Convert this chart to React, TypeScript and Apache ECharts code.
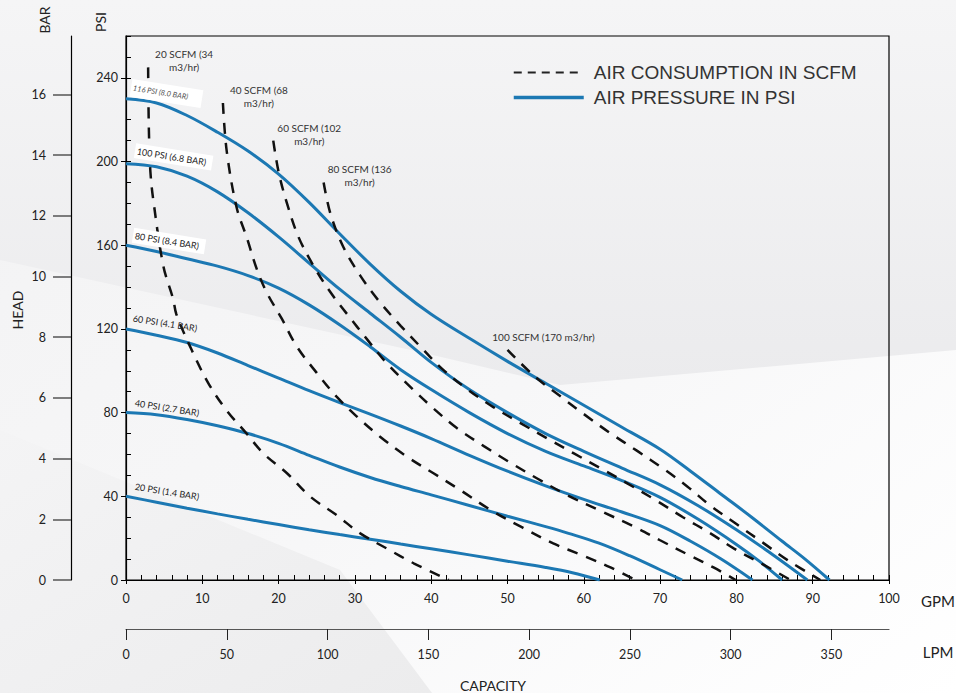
import React, { useEffect, useRef } from "react";
import * as echarts from "echarts";

// ---------- data ----------
const PSI_PER_BAR = 14.5038;
const LPM_PER_GPM = 3.78541;
const GPM_MAX = 100;
const PSI_MAX = 260;
const BAR_TICKS = [0, 2, 4, 6, 8, 10, 12, 14, 16];
const LPM_TICKS = [0, 50, 100, 150, 200, 250, 300, 350];

const LEGEND_AIR = "AIR CONSUMPTION IN SCFM";
const LEGEND_PSI = "AIR PRESSURE IN PSI";

// Air pressure curves  [GPM, PSI]
const psi116 = [[0, 230], [4, 228], [8, 222], [12, 214], [16, 205], [20, 194], [24, 180.5], [28, 165.5], [32, 151], [36, 138], [40, 127], [45, 115.5], [50, 104.5], [55, 94], [60, 83.5], [65, 73], [70, 62.5], [74, 52], [78, 41], [82, 30], [86, 18.5], [89, 10], [92.2, 0]];
const psi100 = [[0, 199], [4, 197.5], [8, 193], [12, 185.5], [16, 175.5], [20, 164], [24, 151.5], [28, 139], [32, 127.5], [36, 116], [40, 104], [45, 91], [50, 80], [55, 70], [60, 61.5], [65, 53.5], [70, 45.5], [75, 35.5], [80, 24], [85, 11.5], [89.3, 0]];
const psi80 = [[0, 160], [4, 157], [8, 153.5], [12, 150], [16, 145.5], [20, 139.5], [24, 131.5], [28, 122], [32, 111.5], [36, 100.5], [40, 91], [45, 80], [50, 70], [55, 61.5], [60, 54.5], [65, 47.5], [70, 39.5], [75, 29], [80, 17], [83, 9], [86, 0]];
const psi60 = [[0, 120], [4, 117], [8, 113.5], [12, 108.5], [16, 102.5], [20, 96.5], [24, 90.5], [28, 84.8], [32, 79.3], [36, 73.6], [40, 67.6], [45, 59.6], [50, 52], [55, 45], [60, 38.5], [65, 32.5], [70, 26], [74, 18.5], [78, 10], [82.1, 0]];
const psi40 = [[0, 80], [4, 79], [8, 76.7], [12, 73.7], [16, 70], [20, 65.3], [24, 59.6], [28, 54], [32, 49], [36, 44.7], [40, 40.7], [45, 35.6], [50, 30.5], [55, 25.5], [58, 22.3], [62, 17.6], [66, 11.6], [70, 4.9], [72.9, 0]];
const psi20 = [[0, 40], [4, 37.2], [8, 34.3], [12, 31.6], [16, 29], [20, 26.5], [24, 24], [28, 21.7], [32, 19.5], [36, 17.2], [40, 14.9], [45, 12], [50, 9], [55, 6], [58.5, 3.5], [62.1, 0]];

// Air consumption curves [GPM, PSI]
const scfm20 = [[2.9, 245], [3.0, 215], [3.2, 195], [3.6, 181], [4.9, 150], [6.2, 134], [6.6, 127], [8.6, 110], [10.8, 94], [13.2, 81], [15.8, 70], [18, 60.5], [21.1, 51], [24.1, 40], [27.6, 31], [30.7, 22.3], [34.2, 15], [37.7, 8], [42.3, 0]];
const scfm40 = [[12.7, 228], [13.2, 205], [14.5, 178], [15.8, 164], [17.2, 148], [18.5, 137], [20.4, 125], [22.4, 111.5], [25, 99], [27.6, 87.6], [30.3, 78], [33.3, 68.5], [36.8, 59], [40.3, 51], [43.8, 43], [48, 33], [52, 25], [56, 17.5], [60, 11.5], [63.5, 6], [66.8, 0]];
const scfm60 = [[19.3, 210], [20, 195], [21.1, 180], [22.6, 164], [24.6, 150], [26.8, 137.5], [29, 127], [31.6, 115], [34.2, 103.5], [37.5, 91.5], [40.3, 82], [43.4, 72.5], [46.9, 64], [50.4, 56], [53.9, 48.5], [57.6, 41], [62.2, 33], [66.6, 25.5], [70, 19], [74, 11.5], [77, 6], [79.9, 0]];
const scfm80 = [[25.9, 190], [26.8, 175], [28.5, 159], [30.7, 145.5], [33, 134], [36, 121.5], [38.8, 110.7], [41.4, 101], [44.8, 91], [48.2, 82.5], [51.7, 75], [55.2, 67.7], [58.7, 60.5], [62.4, 53], [65.7, 46.2], [69.5, 38], [73, 30], [76.6, 22.3], [79.7, 15], [83.6, 7.2], [87.1, 0]];
const scfm100 = [[50, 110], [53.5, 97.5], [57, 87.6], [60, 79.3], [63.5, 70.1], [67, 61.7], [70.5, 53], [73.6, 44.6], [76.6, 35.5], [80.1, 26.5], [83.6, 17.5], [86.7, 9.5], [91, 0]];

const pressureCurves = [psi116, psi100, psi80, psi60, psi40, psi20];
const pressureLabels = ["116 PSI (8.0 BAR)", "100 PSI (6.8 BAR)", "80 PSI (8.4 BAR)", "60 PSI (4.1 BAR)", "40 PSI (2.7 BAR)", "20 PSI (1.4 BAR)"];
const airCurves = [scfm20, scfm40, scfm60, scfm80, scfm100];
const airLabels = ["20 SCFM (34\nm3/hr)", "40 SCFM (68\nm3/hr)", "60 SCFM (102\nm3/hr)", "80 SCFM (136\nm3/hr)", "100 SCFM (170 m3/hr)"];

// ---------- styles ----------
const FONT = 'Lato, "Open Sans", sans-serif';
const BLUE = "#1c78b3";
const pressureLabelStyle = [
  { dx: 5, dy: -11, size: 7.5, italic: true, bg: true, color: "#555", pad: [5, 14, 5, 2] },
  { dx: 9, dy: -13, size: 9, italic: false, bg: true, color: "#222", pad: [3, 6, 3, 2] },
  { dx: 7, dy: -10, size: 9, italic: false, bg: true, color: "#222", pad: [3, 6, 3, 2] },
  { dx: 7, dy: -11, size: 9, italic: false, bg: false, color: "#222", pad: 0 },
  { dx: 9, dy: -10, size: 9, italic: false, bg: false, color: "#222", pad: 0 },
  { dx: 9, dy: -10, size: 9, italic: false, bg: false, color: "#222", pad: 0 },
];

export default function App() {
  const ref = useRef<HTMLDivElement>(null);
  useEffect(() => {
    const chart = echarts.init(ref.current!, null, { renderer: "svg" });
    const axisLabelBase = { color: "#222", fontSize: 12.5, fontFamily: FONT };
    const series: any[] = [];
    pressureCurves.forEach((d) => {
      series.push({
        type: "line", name: LEGEND_PSI, data: d, smooth: 0.35, symbol: "none", showSymbol: false,
        lineStyle: { color: BLUE, width: 3 }, itemStyle: { color: BLUE }, z: 3,
      });
    });
    airCurves.forEach((d) => {
      series.push({
        type: "line", name: LEGEND_AIR, data: d, smooth: 0.35, symbol: "none", showSymbol: false,
        lineStyle: { color: "#111", width: 2.5, type: [11, 9] }, itemStyle: { color: "#111" }, z: 4,
      });
    });

    const option: any = {
      animation: false,
      backgroundColor: new echarts.graphic.LinearGradient(0, 0, 1, 1, [
        { offset: 0, color: "#f2f2f3" }, { offset: 0.55, color: "#f7f7f8" }, { offset: 1, color: "#ffffff" },
      ]),
      grid: { left: 126, right: 67, top: 36, bottom: 113, show: true, borderColor: "#000", borderWidth: 1.2, backgroundColor: "transparent" },
      legend: {
        left: 512, top: 63, orient: "vertical", itemWidth: 70, itemHeight: 12, itemGap: 6, padding: 0,
        textStyle: { fontFamily: '"Liberation Sans", Arial, sans-serif', fontSize: 19, color: "#333", padding: [0, 0, 0, 5] },
        itemStyle: { opacity: 0 },
        data: [
          { name: LEGEND_AIR, lineStyle: { type: [8, 6], width: 2, color: "#222" } },
          { name: LEGEND_PSI, lineStyle: { width: 3.5, color: BLUE } },
        ],
      },
      xAxis: [
        {
          type: "value", min: 0, max: GPM_MAX, interval: 10, position: "bottom",
          axisLine: { show: true, onZero: false, lineStyle: { color: "#000", width: 1.2 } },
          axisTick: { show: true, length: 4, lineStyle: { color: "#000" } },
          axisLabel: { ...axisLabelBase, margin: 12 }, splitLine: { show: false },
        },
        {
          type: "value", min: 0, max: GPM_MAX, interval: 2, position: "bottom",
          axisLine: { show: false, onZero: false }, axisTick: { show: true, inside: true, length: 5, lineStyle: { color: "#000" } },
          axisLabel: { show: false }, splitLine: { show: false },
        },
        {
          type: "value", min: 0, max: GPM_MAX * LPM_PER_GPM, position: "bottom", offset: 49,
          axisLine: { show: true, onZero: false, lineStyle: { color: "#555", width: 1.2 } },
          axisTick: { show: true, customValues: LPM_TICKS, length: 11, lineStyle: { color: "#222" } },
          axisLabel: { ...axisLabelBase, customValues: LPM_TICKS, margin: 19 }, splitLine: { show: false },
        },
      ],
      yAxis: [
        {
          type: "value", min: 0, max: PSI_MAX, interval: 40, position: "left",
          axisLine: { show: true, onZero: false, lineStyle: { color: "#000", width: 1.2 } },
          axisTick: { show: true, length: 5, lineStyle: { color: "#000" } },
          axisLabel: { ...axisLabelBase, margin: 8, showMaxLabel: false }, splitLine: { show: false },
        },
        {
          type: "value", min: 0, max: PSI_MAX, interval: 10, position: "left",
          axisLine: { show: false, onZero: false }, axisTick: { show: true, inside: true, length: 5, lineStyle: { color: "#000" } },
          axisLabel: { show: false }, splitLine: { show: false },
        },
        {
          type: "value", min: 0, max: PSI_MAX / PSI_PER_BAR, position: "left", offset: 55,
          axisLine: { show: true, onZero: false, lineStyle: { color: "#000", width: 1.2 } },
          axisTick: { show: true, customValues: BAR_TICKS, length: 18, lineStyle: { color: "#555", width: 1.5 } },
          axisLabel: { ...axisLabelBase, customValues: BAR_TICKS, margin: 25 }, splitLine: { show: false },
        },
      ],
      series,
    };
    chart.setOption(option);

    const px = (p: number[]) => chart.convertToPixel({ xAxisIndex: 0, yAxisIndex: 0 }, p) as number[];
    const graphics: any[] = [];
    // background shading
    graphics.push({
      type: "polygon", z: -10, silent: true,
      shape: { points: [[0, 0], [956, 0], [956, 350], [560, 385], [420, 352], [0, 260]] },
      style: { fill: new echarts.graphic.LinearGradient(0, 0, 0, 1, [{ offset: 0, color: "#f5f5f6" }, { offset: 1, color: "#ebebed" }]) },
    });
    graphics.push({
      type: "polygon", z: -10, silent: true,
      shape: { points: [[0, 430], [340, 570], [432, 693], [0, 693]] },
      style: { fill: new echarts.graphic.LinearGradient(0, 0, 1, 1, [{ offset: 0, color: "#f4f4f5" }, { offset: 1, color: "#ececed" }]) },
    });
    // axis titles
    const title = (text: string, x: number, y: number, size: number, rot = 0) => ({
      type: "text", x, y, rotation: rot, z: 50,
      style: { text, fill: "#222", font: `${size}px ${FONT}`, textAlign: "center", textVerticalAlign: "middle" },
    });
    graphics.push(title("BAR", 44, 20, 14, Math.PI / 2));
    graphics.push(title("PSI", 100, 22, 14, Math.PI / 2));
    graphics.push(title("HEAD", 17, 310, 14, Math.PI / 2));
    graphics.push(title("CAPACITY", 493, 685, 14));
    graphics.push(title("GPM", 938, 601, 15));
    graphics.push(title("LPM", 938, 652, 15));

    // pressure curve labels
    pressureCurves.forEach((d, i) => {
      const [x, y] = px(d[0]);
      const s = pressureLabelStyle[i];
      graphics.push({
        type: "text", x: x + s.dx, y: y + s.dy, rotation: -0.16, z: 60,
        style: {
          text: pressureLabels[i], fill: s.color,
          font: `${s.italic ? "italic " : ""}${s.size}px ${FONT}`,
          textAlign: "left", textVerticalAlign: "middle",
          backgroundColor: s.bg ? "#ffffff" : undefined, padding: s.pad,
        },
      });
    });
    // air consumption labels
    airCurves.forEach((d, i) => {
      const [x, y] = px(d[0]);
      const twoLine = airLabels[i].indexOf("\n") >= 0;
      graphics.push({
        type: "text", x: x + 36, y: twoLine ? y + 6.5 : y - 12.5, z: 60,
        style: {
          text: airLabels[i], fill: "#333", font: `10px ${FONT}`, lineHeight: 13,
          textAlign: "center", textVerticalAlign: twoLine ? "bottom" : "middle",
        },
      });
    });
    chart.setOption({ graphic: graphics });

    return () => chart.dispose();
  }, []);
  return <div ref={ref} style={{ position: "fixed", left: 0, top: 0, width: 956, height: 693 }} />;
}
